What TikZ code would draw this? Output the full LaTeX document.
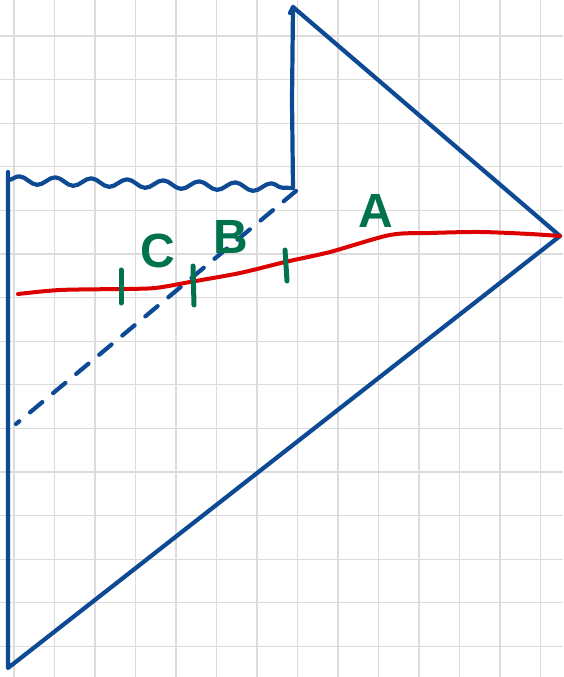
\documentclass[tikz,border=0pt]{standalone}
\usepackage{fontspec}
\setsansfont{Liberation Sans}
\usetikzlibrary{decorations.pathmorphing}
\definecolor{penblue}{RGB}{14,74,148}
\definecolor{penred}{RGB}{220,0,0}
\definecolor{pengreen}{RGB}{0,115,78}
\definecolor{gridgray}{RGB}{220,220,220}
\begin{document}
\begin{tikzpicture}[
    x=1pt, y=-1pt,
    blueline/.style={draw=penblue, line width=4.2pt, line cap=round, line join=round},
    redline/.style={draw=penred, line width=4pt, line cap=round},
    tick/.style={draw=pengreen, line width=5pt, line cap=round},
    letter/.style={text=pengreen, font=\sffamily\bfseries\fontsize{48}{48}\selectfont, inner sep=0pt}
]
\useasboundingbox (0,0) rectangle (563,677);
\fill[white] (0,0) rectangle (563,677);

% grid paper
\foreach \i in {0,...,13}
  \draw[gridgray, line width=1.2pt] ({14+40.5*\i},0) -- ({14+40.5*\i},677);
\foreach \j in {0,...,14}
  \draw[gridgray, line width=1.2pt] (0,{36+43.6*\j}) -- (563,{36+43.6*\j});

% corners
\coordinate (bottomleft) at (8,668);
\coordinate (topleft) at (8,172);
\coordinate (apex) at (560,236);
\coordinate (top) at (293,7);
\coordinate (notch) at (293,188);
\coordinate (wavestart) at (8,180);
\coordinate (dashstart) at (296,191);
\coordinate (dashend) at (16,424);

% outline
\draw[blueline] (topleft) -- (bottomleft) -- (apex) -- (top);
\draw[blueline] (290,13) -- (top) -- (292,100) -- (notch);
\draw[blueline, decorate, decoration={snake, segment length=36pt, amplitude=4pt}]
  (wavestart) -- (notch);

% dashed edge
\draw[blueline, dash pattern=on 16pt off 14pt] (dashstart) -- (dashend);

% red curve
\draw[redline] plot[smooth] coordinates {(18,294) (60,290) (120,289) (155,288)
  (190,282) (240,273) (285,262) (330,252) (390,235) (430,233) (480,232)
  (530,234) (560,236)};

% ticks
\draw[tick] (121,270) -- (121,303);
\draw[tick] (193,266) -- (194,305);
\draw[tick] (285,250) -- (287,281);

% labels
\node[letter] (labelC) at (158,251) {C};
\node[letter] (labelB) at (231,237) {B};
\node[letter] (labelA) at (376,211) {A};
\end{tikzpicture}
\end{document}
